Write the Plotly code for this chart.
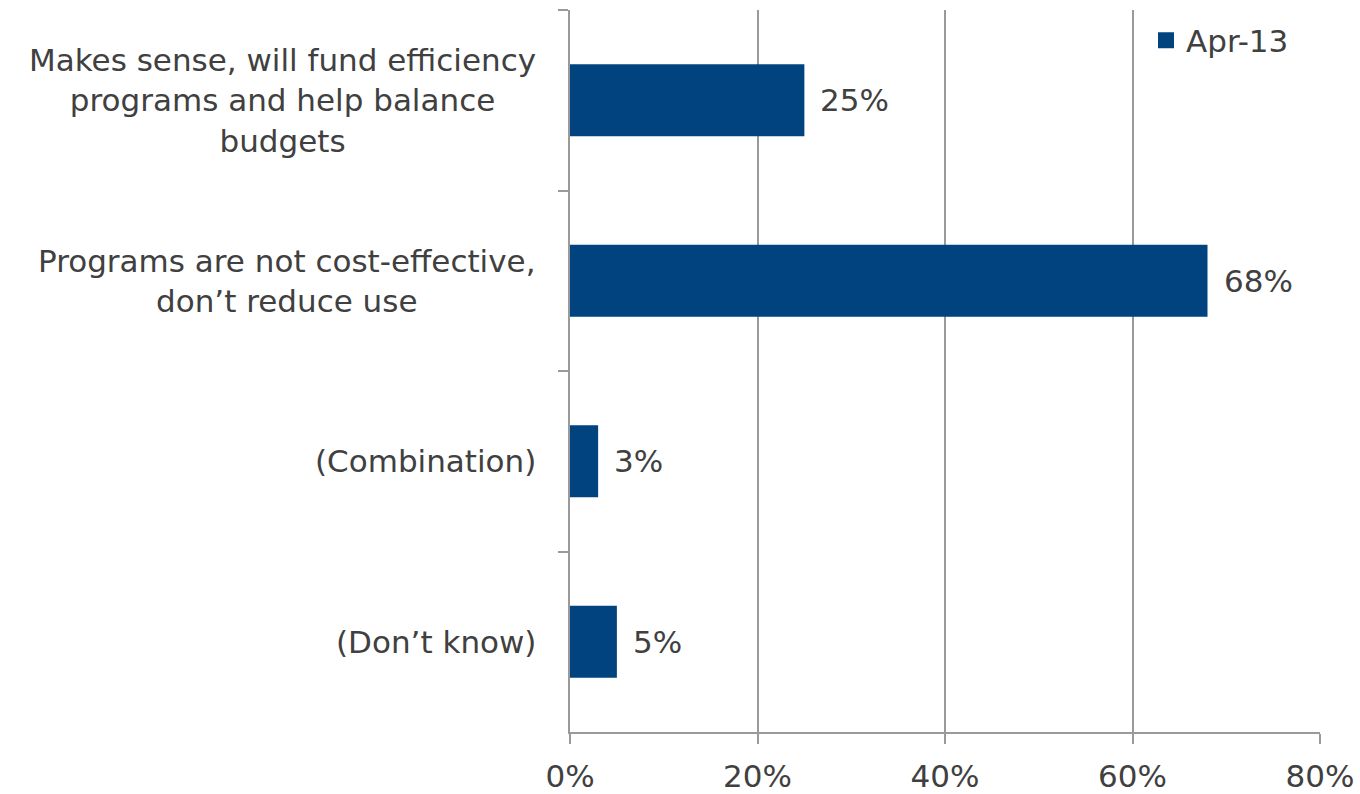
import plotly.graph_objects as go

# Survey responses (share of respondents), April 2013
categories = [
    "Makes sense, will fund efficiency<br>programs and help balance<br>budgets",
    "Programs are not cost-effective,<br>don\u2019t reduce use",
    "(Combination)",
    "(Don\u2019t know)",
]
values = [0.25, 0.68, 0.03, 0.05]
series_name = "Apr-13"
x_ticks = [0, 0.2, 0.4, 0.6, 0.8]
x_tick_labels = ["0%", "20%", "40%", "60%", "80%"]

BAR = "#00437F"
TEXT = "#404040"
GRID = "#9A9A9A"
FONT = "DejaVu Sans"
SIZE = 31

fig = go.Figure()
fig.add_trace(go.Bar(
    y=categories,
    x=values,
    orientation="h",
    name=series_name,
    showlegend=False,
    marker=dict(color=BAR, line=dict(width=0)),
))
# legend entry with a larger square key
fig.add_trace(go.Scatter(
    x=[None], y=[None], mode="markers", name=series_name,
    marker=dict(symbol="square", size=20, color=BAR),
))

# value labels just past the end of each bar
for cat, v in zip(categories, values):
    fig.add_annotation(
        x=v, y=cat, xref="x", yref="y",
        text=f"{round(v * 100)}%",
        showarrow=False, xanchor="left", xshift=14,
        font=dict(family=FONT, size=SIZE, color=TEXT),
    )

# category labels: block right-aligned against the axis, lines centred
for cat in categories:
    fig.add_annotation(
        x=0, y=cat, xref="paper", yref="y",
        text=cat, showarrow=False,
        xanchor="right", align="center", xshift=-32,
        font=dict(family=FONT, size=SIZE, color=TEXT),
    )

fig.update_layout(
    width=1360, height=794,
    margin=dict(l=570, r=40, t=10, b=62, autoexpand=False),
    paper_bgcolor="white", plot_bgcolor="white",
    bargap=0.6,
    font=dict(family=FONT, size=SIZE, color=TEXT),
    showlegend=True,
    legend=dict(
        x=0.768, y=0.995, xanchor="left", yanchor="top",
        bgcolor="rgba(0,0,0,0)",
        font=dict(family=FONT, size=SIZE, color=TEXT),
        itemwidth=30, itemsizing="trace",
    ),
    xaxis=dict(
        range=[0, 0.8],
        tickvals=x_ticks, ticktext=x_tick_labels,
        showgrid=True, gridcolor=GRID, gridwidth=2,
        zeroline=False,
        showline=True, linecolor=GRID, linewidth=2,
        ticks="outside", ticklen=10, tickwidth=2, tickcolor=GRID,
        ticklabelstandoff=6,
        tickfont=dict(family=FONT, size=SIZE, color=TEXT),
        automargin=False,
        fixedrange=True,
    ),
    yaxis=dict(
        categoryorder="array", categoryarray=categories,
        autorange="reversed",
        showticklabels=False,
        showgrid=False, zeroline=False,
        showline=True, linecolor=GRID, linewidth=2,
        ticks="outside", tickson="boundaries",
        ticklen=10, tickwidth=2, tickcolor=GRID,
        automargin=False,
        fixedrange=True,
    ),
)

fig.write_html("out.html")
